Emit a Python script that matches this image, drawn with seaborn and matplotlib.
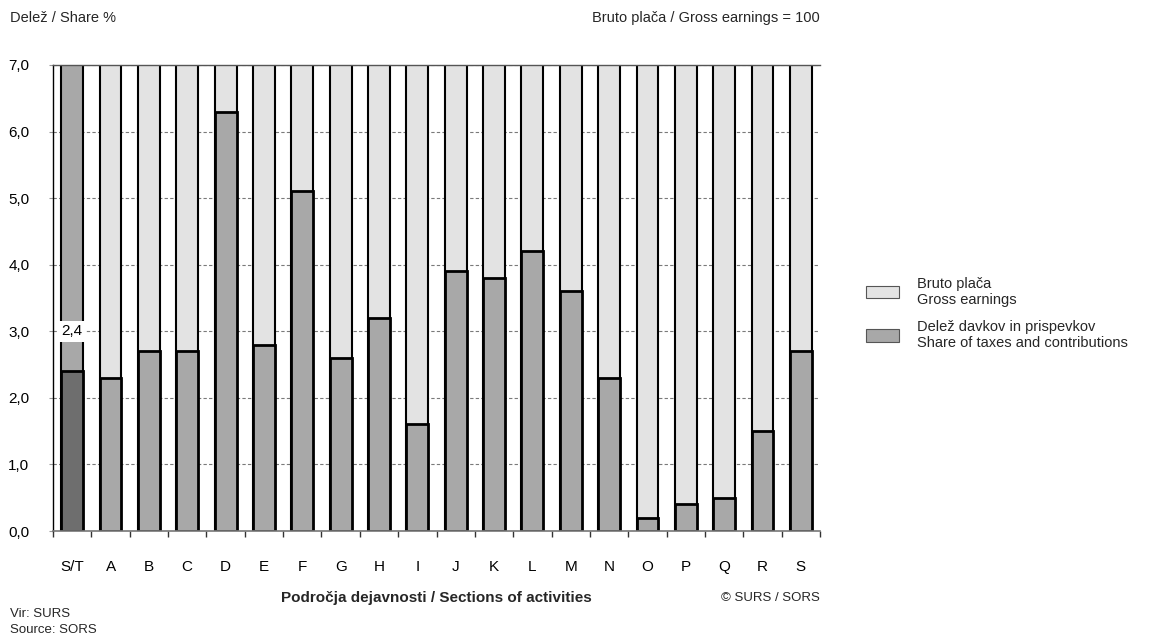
import matplotlib
matplotlib.use("Agg")
import matplotlib.pyplot as plt
from matplotlib.patches import Patch
from matplotlib.ticker import FixedLocator, FuncFormatter
import numpy as np
import pandas as pd
import seaborn as sns

# Data (gross earnings = 100, share of taxes and contributions in %)
sections = ["S/T", "A", "B", "C", "D", "E", "F", "G", "H", "I",
            "J", "K", "L", "M", "N", "O", "P", "Q", "R", "S"]
tax_share = [2.4, 2.3, 2.7, 2.7, 6.3, 2.8, 5.1, 2.6, 3.2, 1.6,
             3.9, 3.8, 4.2, 3.6, 2.3, 0.2, 0.4, 0.5, 1.5, 2.7]
gross_earnings = [100] * len(sections)

df = pd.DataFrame({"section": sections, "tax": tax_share, "gross": gross_earnings})

sns.set_theme(style="white")
plt.rcParams["font.family"] = ["Liberation Sans", "DejaVu Sans"]

top_colors = ["#a8a8a8"] + ["#e3e3e3"] * (len(sections) - 1)
bottom_colors = ["#6e6e6e"] + ["#a8a8a8"] * (len(sections) - 1)

fig = plt.figure(figsize=(11.6, 6.41), dpi=100)
ax = fig.add_axes([0.0457, 0.1716, 0.6612, 0.727])

sns.barplot(data=df, x="section", y="gross", hue="section", palette=top_colors,
            width=0.57, edgecolor="black", linewidth=1.5, legend=False, ax=ax)
sns.barplot(data=df, x="section", y="tax", hue="section", palette=bottom_colors,
            width=0.57, edgecolor="black", linewidth=2.0, legend=False, ax=ax)

# label over S/T bar
ax.text(0, 3.0, f"{tax_share[0]:.1f}".replace(".", ","), ha="center", va="center",
        fontsize=11, color="black", zorder=5,
        bbox=dict(facecolor="white", edgecolor="none", pad=2.5))

ax.set_ylim(0, 7)
ax.set_xlim(-0.5, len(sections) - 0.5)
ax.set_yticks(np.arange(0, 7.1, 1.0))
ax.yaxis.set_major_formatter(FuncFormatter(lambda v, p: f"{v:.1f}".replace(".", ",")))
ax.yaxis.grid(True, color="#7a7a7a", linestyle=(0, (3, 2)), linewidth=0.8)
ax.set_axisbelow(True)

ax.xaxis.set_minor_locator(FixedLocator(np.arange(-0.5, len(sections), 1.0)))
ax.tick_params(axis="x", which="major", length=0, pad=21, labelsize=11, labelcolor="black")
ax.tick_params(axis="x", which="minor", bottom=True, length=4, width=1, color="#333333", direction="out")
ax.tick_params(axis="y", left=True, length=3, width=0.8, color="#999999", pad=14,
               labelsize=11, labelcolor="black")

ax.spines["right"].set_visible(False)
ax.spines["left"].set_color("black")
ax.spines["left"].set_linewidth(1.0)
ax.spines["bottom"].set_color("#777777")
ax.spines["bottom"].set_linewidth(1.2)
ax.spines["top"].set_color("#555555")
ax.spines["top"].set_linewidth(1.0)

ax.set_xlabel("Področja dejavnosti / Sections of activities", fontsize=11,
              fontweight="bold", labelpad=12)
ax.set_ylabel("")

fig.text(0.009, 0.972, "Delež / Share %", fontsize=10.5, ha="left", va="center")
fig.text(0.7069, 0.972, "Bruto plača / Gross earnings = 100", fontsize=10.5,
         ha="right", va="center")
fig.text(0.7069, 0.067, "© SURS / SORS", fontsize=9.5, ha="right", va="center")
fig.text(0.009, 0.029, "Vir: SURS\nSource: SORS", fontsize=9.5, ha="left",
         va="center", linespacing=1.45)

handles = [Patch(facecolor="#e3e3e3", edgecolor="#555555", linewidth=0.8),
           Patch(facecolor="#a8a8a8", edgecolor="#555555", linewidth=0.8)]
labels = ["Bruto plača\nGross earnings",
          "Delež davkov in prispevkov\nShare of taxes and contributions"]
fig.legend(handles, labels, loc="upper left", bbox_to_anchor=(0.735, 0.589),
           frameon=False, fontsize=10.5, handlelength=2.3, handleheight=0.9,
           handletextpad=1.2, labelspacing=0.9)

fig.savefig("out.png", dpi=100)
